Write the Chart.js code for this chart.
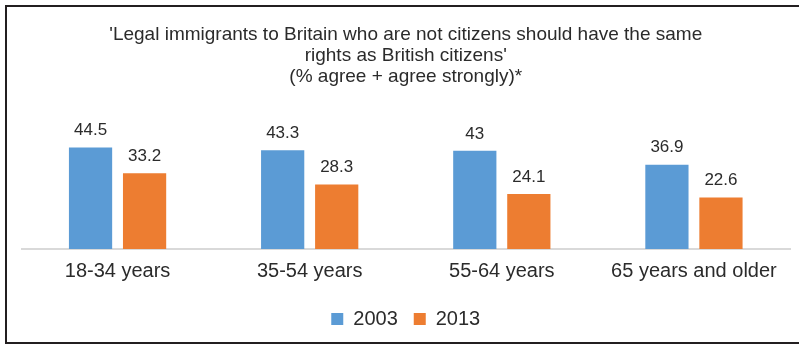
<!DOCTYPE html>
<html>
<head>
<meta charset="utf-8">
<script src="https://cdn.jsdelivr.net/npm/chart.js@4.4.1/dist/chart.umd.min.js"></script>
<style>
  html, body { margin: 0; padding: 0; background: #fff; }
  #wrap { position: relative; width: 799px; height: 345px; overflow: hidden; }
  #marco {
    position: absolute; left: 5px; top: 5px; width: 800px; height: 335px;
    border-top: 2px solid #231f20; border-left: 2px solid #231f20; border-bottom: 2px solid #231f20;
    pointer-events: none;
  }
</style>
</head>
<body>
<div id="wrap">
  <canvas id="myChart" width="799" height="345"></canvas>
  <div id="marco"></div>
</div>
<script>
// datos
const grupos = ["18-34 years", "35-54 years", "55-64 years", "65 years and older"];
const anios = ["2003", "2013"];
const valores2003 = [44.5, 43.3, 43, 36.9];
const valores2013 = [33.2, 28.3, 24.1, 22.6];
const titulo = [
  "'Legal immigrants to Britain who are not citizens should have the same",
  "rights as British citizens'",
  "(% agree + agree strongly)*"
];

const texto = "#2b2b2b";
const fuente = "'Liberation Sans', Arial, Helvetica, sans-serif";

// etiquetas encima de cada barra
const etiquetas = {
  id: "etiquetas",
  afterDatasetsDraw(chart) {
    const ctx = chart.ctx;
    ctx.save();
    ctx.font = "17px " + fuente;
    ctx.fillStyle = texto;
    ctx.textAlign = "center";
    ctx.textBaseline = "middle";
    chart.data.datasets.forEach((ds, i) => {
      chart.getDatasetMeta(i).data.forEach((bar, j) => {
        ctx.fillText(String(ds.data[j]), bar.x, bar.y - 17);
      });
    });
    ctx.restore();
  }
};

const data = {
  labels: grupos,
  datasets: [
    {
      label: anios[0],
      backgroundColor: "#5b9bd5",
      borderWidth: 0,
      data: valores2003,
    },
    {
      label: anios[1],
      backgroundColor: "#ed7d31",
      borderWidth: 0,
      data: valores2013,
    },
  ],
};

const config = {
  type: "bar",
  data,
  plugins: [etiquetas],
  options: {
    responsive: false,
    animation: false,
    barPercentage: 0.8,
    categoryPercentage: 0.5625,
    layout: { padding: { left: 21.5, right: 9, top: 0, bottom: 6 } },
    plugins: {
      title: {
        display: true,
        text: titulo,
        color: texto,
        font: { family: fuente, size: 19, weight: "normal", lineHeight: 1.12 },
        padding: { top: 24, bottom: 47 },
      },
      legend: {
        position: "bottom",
        labels: {
          boxWidth: 12,
          boxHeight: 12,
          padding: 16,
          color: texto,
          font: { family: fuente, size: 20 },
        },
      },
      tooltip: { enabled: false },
    },
    scales: {
      x: {
        grid: { display: false, drawTicks: false },
        border: { color: "#d9d9d9", width: 2 },
        ticks: {
          padding: 0,
          color: texto,
          font: { family: fuente, size: 20, lineHeight: 2.2 },
        },
      },
      y: {
        display: false,
        min: 0,
        max: 50,
      },
    },
  },
};

var myChart = new Chart(document.getElementById("myChart"), config);
</script>
</body>
</html>
